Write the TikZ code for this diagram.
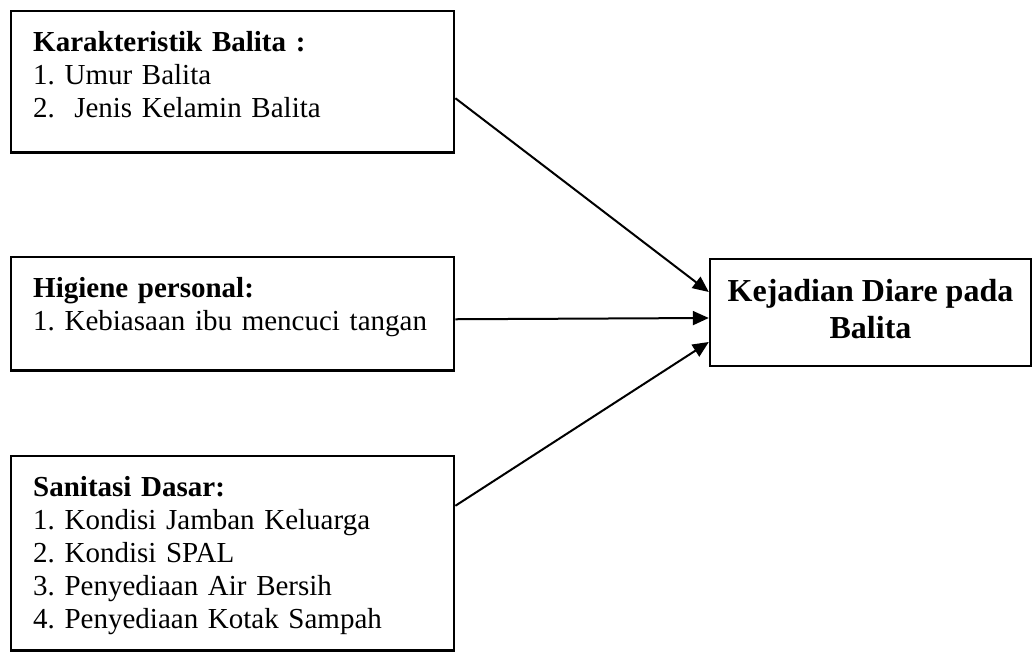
\documentclass[tikz,border=0pt]{standalone}
\usepackage{fontspec}
\setmainfont{Liberation Serif}
\usetikzlibrary{arrows.meta}
\begin{document}
\begin{tikzpicture}[x=1pt,y=-1pt,
  kotak/.style={draw, line width=2.4pt, anchor=north west, align=left, text width=399pt,
    inner xsep=22pt, inner ysep=20pt, font=\fontsize{29}{33}\selectfont\frenchspacing},
  panah/.style={line width=2pt, -{Triangle[length=16pt,width=14pt]}}]
\useasboundingbox (0,0) rectangle (1036,652);
\node[kotak, text depth=81pt] (kar) at (10,10) {\textbf{Karakteristik Balita :}\\1. Umur Balita\\2.\ \ Jenis Kelamin Balita};
\node[kotak, text depth=53pt] (hig) at (10,256) {\textbf{Higiene personal:}\\1. Kebiasaan ibu mencuci tangan};
\node[kotak, text depth=134pt] (san) at (10,455) {\textbf{Sanitasi Dasar:}\\1. Kondisi Jamban Keluarga\\2. Kondisi SPAL\\3. Penyediaan Air Bersih\\4. Penyediaan Kotak Sampah};
\node[draw, line width=2.4pt, minimum width=321pt, minimum height=107pt, align=center,
  text depth=8pt, font=\bfseries\fontsize{32}{37}\selectfont] (hasil) at (870.5,312.5) {Kejadian Diare pada\\Balita};
\draw[panah] ([yshift=-16.5pt]kar.east) -- ([yshift=20.5pt]hasil.west);
\draw[panah] ([yshift=-5.5pt]hig.east) -- ([yshift=-5.5pt]hasil.west);
\draw[panah] ([yshift=47.5pt]san.east) -- ([yshift=-29.5pt]hasil.west);
\end{tikzpicture}
\end{document}
